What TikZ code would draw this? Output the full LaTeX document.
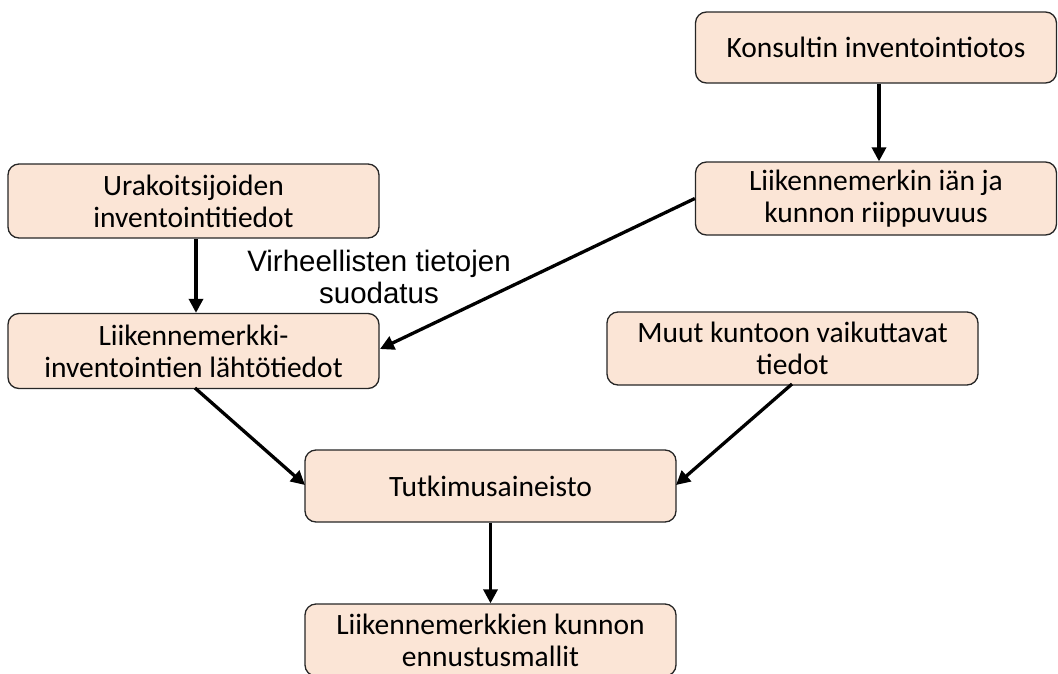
\documentclass[tikz,border=0pt]{standalone}
\usepackage{fontspec}
\setmainfont{Carlito}
\newfontfamily\labelfont{Liberation Sans}
\usetikzlibrary{arrows.meta}
\definecolor{boxfill}{HTML}{FBE5D6}
\definecolor{boxline}{HTML}{262626}
\tikzset{
  box/.style={draw=boxline, line width=1.3pt, fill=boxfill, rounded corners=11pt,
    minimum width=#1, minimum height=72pt, align=center, inner sep=1pt,
    font=\fontsize{29.5}{32}\selectfont},
  box/.default=371pt,
  conn/.style={line width=3.3pt, -{Triangle[length=14pt,width=14pt]}},
  lbl/.style={align=center, font=\labelfont\fontsize{29.5}{32}\selectfont}
}
\begin{document}
\begin{tikzpicture}[x=1pt,y=-1pt]
\useasboundingbox (0,0) rectangle (1058,673);
\node[box=361pt, minimum height=71pt] (kons) at (876,47.5) {Konsultin inventointiotos};
\node[box=361pt, minimum height=73pt] (ika) at (876,198.5) {Liikennemerkin iän ja\\kunnon riippuvuus};
\node[box, minimum height=74pt] (urak) at (193.5,201) {Urakoitsijoiden\\inventointitiedot};
\node[box, minimum height=75pt] (lahto) at (193.5,351) {Liikennemerkki-\\inventointien lähtötiedot};
\node[box=371pt, minimum height=73pt] (muut) at (792.5,348.5) {Muut kuntoon vaikuttavat\\tiedot};
\node[box] (tutk) at (490.5,486) {Tutkimusaineisto};
\node[box] (malli) at (490.5,640) {Liikennemerkkien kunnon\\ennustusmallit};
\node[lbl] (suod) at (379,277) {Virheellisten tietojen\\suodatus};
\coordinate (lahtoR) at (380,349);
\coordinate (lahtoB) at (195,388);
\coordinate (tutkL) at (305,485);
\coordinate (tutkR) at (676,485);
\coordinate (muutB) at (792,384);
\draw[conn] (kons.south -| 879,0) -- (ika.north -| 879,0);
\draw[conn] (urak.south -| 196,0) -- (lahto.north -| 196,0);
\draw[conn] (ika.west) -- (lahtoR);
\draw[conn] (lahtoB) -- (tutkL);
\draw[conn] (muutB) -- (tutkR);
\draw[conn] (tutk) -- (malli);
\end{tikzpicture}
\end{document}
